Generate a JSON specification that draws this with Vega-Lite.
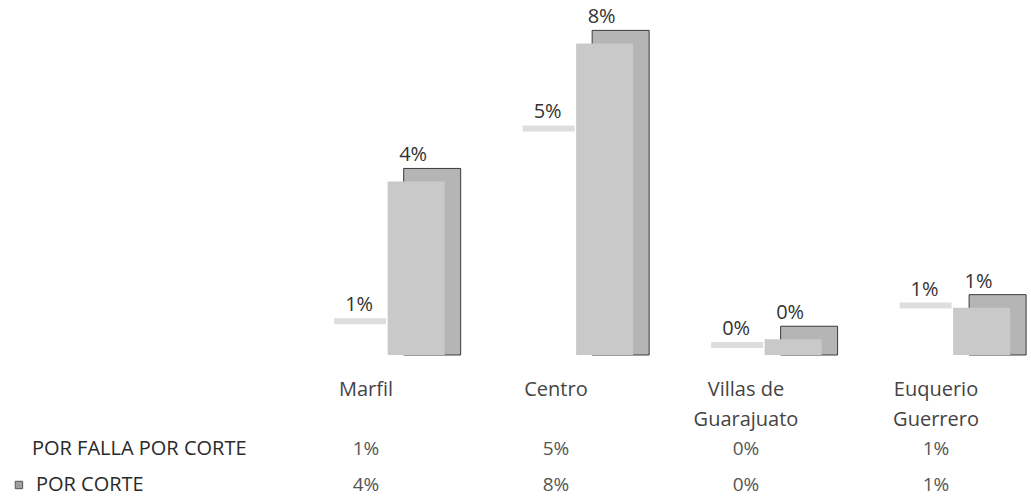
{
  "$schema": "https://vega.github.io/schema/vega-lite/v6.json",
  "padding": {"left": 0, "top": 0, "right": 0, "bottom": 0},
  "background": "white",
  "config": {"view": {"stroke": null}, "font": "Open Sans"},
  "datasets": {
    "rows": [
      {"series": "POR FALLA POR CORTE", "label": "POR FALLA POR CORTE"},
      {"series": "POR CORTE", "label": "POR CORTE"}
    ]
  },
  "data": {"values": [
    {"cat": "Marfil", "series": "POR FALLA POR CORTE", "value": 0.006},
    {"cat": "Centro", "series": "POR FALLA POR CORTE", "value": 0.0549},
    {"cat": "Villas de Guarajuato", "series": "POR FALLA POR CORTE", "value": 0.0},
    {"cat": "Euquerio Guerrero", "series": "POR FALLA POR CORTE", "value": 0.01},
    {"cat": "Marfil", "series": "POR CORTE", "value": 0.044},
    {"cat": "Centro", "series": "POR CORTE", "value": 0.079},
    {"cat": "Villas de Guarajuato", "series": "POR CORTE", "value": 0.004},
    {"cat": "Euquerio Guerrero", "series": "POR CORTE", "value": 0.012}
  ]},
  "spacing": 23,
  "resolve": {"scale": {"x": "independent", "y": "independent"}},
  "vconcat": [
    {
      "width": 1031,
      "height": 355,
      "encoding": {
        "x": {"field": "cat", "type": "nominal", "sort": null, "axis": null,
              "scale": {"type": "band", "domain": ["Marfil", "Centro", "Villas de Guarajuato", "Euquerio Guerrero"], "paddingInner": 0.2, "paddingOuter": 0.835, "align": 1}},
        "y": {"field": "value", "type": "quantitative", "axis": null,
              "scale": {"domain": [0, 0.09]}}
      },
      "layer": [
        {
          "transform": [{"filter": "datum.series == 'POR FALLA POR CORTE'"}],
          "mark": {"type": "tick", "color": "#d2d2d2", "thickness": 6, "size": 52, "xOffset": -30, "yOffset": -10, "opacity": 0.75}
        },
        {
          "transform": [{"filter": "datum.series == 'POR CORTE'"}],
          "mark": {"type": "bar", "color": "#b5b5b5", "stroke": "#3a3a3a", "strokeWidth": 1, "width": 57, "xOffset": 42, "yOffset": -13},
          "encoding": {"y2": {"datum": 0}}
        },
        {
          "transform": [{"filter": "datum.series == 'POR CORTE'"}],
          "mark": {"type": "bar", "color": "#c9c9c9", "width": 57, "xOffset": 26},
          "encoding": {"y2": {"datum": 0}}
        },
        {
          "transform": [{"filter": "datum.series == 'POR CORTE'"}],
          "mark": {"type": "text", "baseline": "bottom", "dy": -16, "dx": 23, "fontSize": 20, "color": "#333333"},
          "encoding": {"text": {"field": "value", "type": "quantitative", "format": ".0%"}}
        },
        {
          "transform": [{"filter": "datum.series == 'POR FALLA POR CORTE'"}],
          "mark": {"type": "text", "baseline": "bottom", "dy": -16, "dx": -31, "fontSize": 20, "color": "#333333"},
          "encoding": {"text": {"field": "value", "type": "quantitative", "format": ".0%"}}
        }
      ]
    },
    {
      "width": 1031,
      "height": 56,
      "encoding": {
        "y": {"field": "series", "type": "nominal", "axis": null,
              "scale": {"type": "point", "padding": 0.278, "domain": ["POR FALLA POR CORTE", "POR CORTE"]}}
      },
      "layer": [
        {
          "mark": {"type": "text", "fontSize": 19, "color": "#555555"},
          "encoding": {
            "x": {"field": "cat", "type": "nominal",
                  "scale": {"type": "band", "domain": ["Serie", "Marfil", "Centro", "Villas de Guarajuato", "Euquerio Guerrero"], "paddingInner": 0, "paddingOuter": 0.213, "align": 1},
                  "axis": {"orient": "top", "title": null, "domain": false, "ticks": false, "labelAngle": 0,
                           "labelPadding": 60, "labelFontSize": 20, "labelColor": "#444444", "labelLineHeight": 30,
                           "labelBaseline": "top",
                           "labelExpr": "datum.label == 'Serie' ? '' : datum.label == 'Villas de Guarajuato' ? ['Villas de', 'Guarajuato'] : datum.label == 'Euquerio Guerrero' ? ['Euquerio', 'Guerrero'] : datum.label"}},
            "text": {"field": "value", "type": "quantitative", "format": ".0%"}
          }
        },
        {
          "data": {"name": "rows"},
          "transform": [{"filter": "datum.series == 'POR FALLA POR CORTE'"}],
          "mark": {"type": "text", "fontSize": 20, "color": "#2a2a2a", "align": "left", "dx": -49},
          "encoding": {
            "x": {"datum": "Serie", "type": "nominal", "bandPosition": 0},
            "text": {"field": "label"}
          }
        },
        {
          "data": {"name": "rows"},
          "transform": [{"filter": "datum.series == 'POR CORTE'"}],
          "mark": {"type": "text", "fontSize": 20, "color": "#2a2a2a", "align": "left", "dx": -45},
          "encoding": {
            "x": {"datum": "Serie", "type": "nominal", "bandPosition": 0},
            "text": {"field": "label"}
          }
        },
        {
          "data": {"name": "rows"},
          "transform": [{"filter": "datum.series == 'POR CORTE'"}],
          "mark": {"type": "point", "shape": "square", "filled": true, "size": 55, "color": "#a0a0a0", "stroke": "#555555", "strokeWidth": 1, "opacity": 1, "xOffset": -62},
          "encoding": {
            "x": {"datum": "Serie", "type": "nominal", "bandPosition": 0}
          }
        }
      ]
    }
  ]
}
